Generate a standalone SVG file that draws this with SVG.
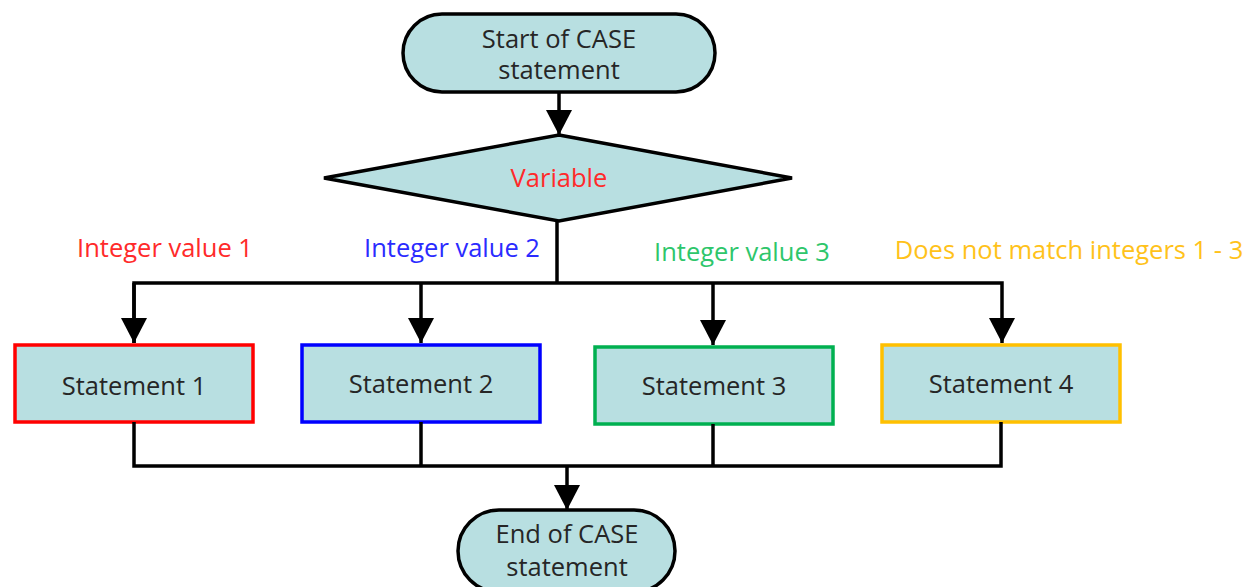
<svg xmlns="http://www.w3.org/2000/svg" width="1247" height="587" viewBox="0 0 1247 587">
  <style>
    .shape { fill: #b8dfe1; stroke: #000; stroke-width: 3.5; }
    .box { fill: #b8dfe1; stroke-width: 3.5; }
    .txt { font-family: "Open Sans", "Noto Sans", sans-serif; font-size: 25.5px; fill: #262626; text-anchor: middle; }
    .lbl { font-family: "Open Sans", "Noto Sans", sans-serif; font-size: 25.5px; text-anchor: middle; }
    .wire { fill: none; stroke: #000; stroke-width: 3.5; stroke-linejoin: miter; }
  </style>
  <defs>
    <marker id="arrow" markerUnits="userSpaceOnUse" markerWidth="26" markerHeight="26" viewBox="0 0 26 26" refX="25" refY="13" orient="auto">
      <path d="M0,0 L25,13 L0,26 Z" fill="#000"/>
    </marker>
  </defs>

  <g id="start">
    <rect class="shape" x="403" y="14" width="312" height="78" rx="39"/>
    <text class="txt" x="559" y="48">Start of CASE</text>
    <text class="txt" x="559" y="79">statement</text>
  </g>

  <g id="variable">
    <polygon class="shape" points="559,135 792,178 559,221 324,178"/>
    <text class="lbl" x="559" y="187" fill="#ff2a2a">Variable</text>
  </g>

  <g id="labels">
    <text class="lbl" x="165" y="257" fill="#ff2a2a">Integer value 1</text>
    <text class="lbl" x="452" y="257" fill="#2b2bff">Integer value 2</text>
    <text class="lbl" x="742" y="261" fill="#2ec66b">Integer value 3</text>
    <text class="lbl" x="1069" y="259" fill="#ffc21a">Does not match integers 1 - 3</text>
  </g>

  <g id="statement1">
    <rect class="box" x="15" y="345" width="238" height="77" stroke="#ff0000"/>
    <text class="txt" x="134" y="395">Statement 1</text>
  </g>
  <g id="statement2">
    <rect class="box" x="302" y="345" width="238" height="77" stroke="#0000ff"/>
    <text class="txt" x="421" y="393">Statement 2</text>
  </g>
  <g id="statement3">
    <rect class="box" x="595" y="347" width="238" height="77" stroke="#00b050"/>
    <text class="txt" x="714" y="395">Statement 3</text>
  </g>
  <g id="statement4">
    <rect class="box" x="882" y="345" width="238" height="77" stroke="#ffc000"/>
    <text class="txt" x="1001" y="393">Statement 4</text>
  </g>

  <g id="end">
    <rect class="shape" x="458" y="510" width="217" height="82" rx="41"/>
    <text class="txt" x="567" y="543">End of CASE</text>
    <text class="txt" x="567" y="576">statement</text>
  </g>

  <g id="connectors">
    <line class="wire" x1="559" y1="92" x2="559" y2="135" marker-end="url(#arrow)"/>
    <polyline class="wire" points="557,221 557,283"/>
    <polyline class="wire" points="134,343 134,283 1002,283 1002,343" marker-end="url(#arrow)"/>
    <line class="wire" x1="134" y1="283" x2="134" y2="343" marker-end="url(#arrow)"/>
    <line class="wire" x1="421" y1="283" x2="421" y2="343" marker-end="url(#arrow)"/>
    <line class="wire" x1="713" y1="283" x2="713" y2="345" marker-end="url(#arrow)"/>
    <polyline class="wire" points="134,422 134,466 1001,466 1001,422"/>
    <line class="wire" x1="421" y1="422" x2="421" y2="466"/>
    <line class="wire" x1="713" y1="424" x2="713" y2="466"/>
    <line class="wire" x1="567" y1="466" x2="567" y2="510" marker-end="url(#arrow)"/>
  </g>
</svg>
